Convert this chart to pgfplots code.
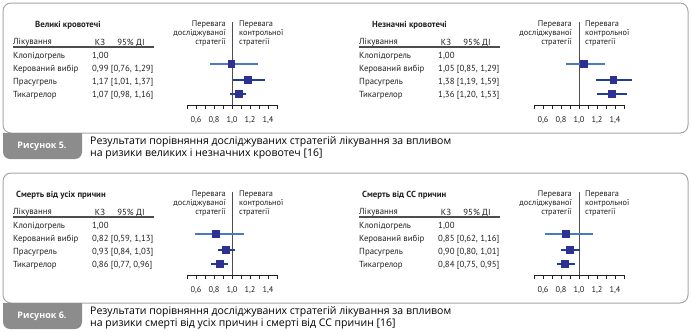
\documentclass[border=0pt]{standalone}
\usepackage{pgfplots}
\pgfplotsset{compat=1.18}
\usepackage{fontspec}
\setmainfont{PT Sans}
\newfontfamily\capfont{Open Sans}
\definecolor{framegray}{HTML}{A6A6A6}
\definecolor{labgray}{HTML}{8C8C8C}
\definecolor{sqblue}{HTML}{2E3192}
\definecolor{cilight}{HTML}{4A7BBE}
\definecolor{cidark}{HTML}{1F3F95}
\definecolor{txt}{HTML}{231F20}
\definecolor{vline}{HTML}{4D4D4D}
\pgfplotsset{forest/.style={scale only axis, width=90pt, height=83pt,
  xmin=0.5, xmax=1.5, ymin=0, ymax=83,
  axis x line=bottom, axis y line=none,
  x axis line style={-, line width=0.8pt, color=txt},
  xtick={0.5,0.6,0.7,0.8,0.9,1.0,1.1,1.2,1.3,1.4,1.5},
  xticklabels={,{0,6},,{0,8},,{1,0},,{1,2},,{1,4},},
  tick align=outside, major tick length=4pt,
  every tick/.style={line width=0.8pt, color=txt},
  xticklabel style={font=\fontsize{8.3}{9}\selectfont, text=txt, yshift=-4pt},
  clip=false, anchor=south west},
  ci1/.style={cilight, line width=1.3pt},
  ci2/.style={cidark, line width=1.3pt},
  sq/.style={only marks, mark=square*, mark size=3.4pt, color=sqblue}}
\newcommand{\pf}{\fontsize{8.8}{10}\selectfont}
\newcommand{\panel}[7]{%
 \begin{scope}[shift={(#1,#2)}, every node/.style={inner sep=0pt, text=txt}]
  \node[anchor=west, font=\bfseries\pf] at (#4,25) {#3};
  \node[anchor=west, font=\pf] at (13,42.5) {Лікування};
  \node[font=\pf] at (100,42.5) {КЗ};
  \node[font=\pf] at (131,42.5) {95\% ДІ};
  \draw[vline, line width=1.5pt] (13,47) -- (154,47);
  \foreach \n/\y in {Клопідогрель/56, Керований вибір/69, Прасугрель/82, Тикагрелор/95}
    \node[anchor=west, font=\pf] at (13,\y) {\n};
  \node[anchor=west, font=\pf] at (92,56) {1,00};
  \node[anchor=west, font=\pf] at (92,69) {#5};
  \node[anchor=west, font=\pf] at (92,82) {#6};
  \node[anchor=west, font=\pf] at (92,95) {#7};
  \node[anchor=north east, align=right, font=\fontsize{8.3}{9}\selectfont] at (226,20) {Перевага\\досліджуваної\\стратегії};
  \node[anchor=north west, align=left, font=\fontsize{8.3}{9}\selectfont] at (239,20) {Перевага\\контрольної\\стратегії};
 \end{scope}}
\begin{document}
\begin{tikzpicture}[x=1pt, y=-1pt]
\path[use as bounding box] (0,0) rectangle (691,332);
% frames
\foreach \dy/\num/\la/\lb in {0/5/{Результати порівняння досліджуваних стратегій лікування за впливом}/{на ризики великих і незначних кровотеч [16]},
  170/6/{Результати порівняння досліджуваних стратегій лікування за впливом}/{на ризики смерті від усіх причин і смерті від СС причин [16]}}{
 \begin{scope}[yshift=-\dy pt]
  \draw[framegray, line width=1pt, rounded corners=8pt] (3,3) rectangle (688,133);
  \fill[labgray] (82,133) -- (3,133) {[rounded corners=7pt] -- (3,159) -- (82,159)} -- cycle;
  \node[text=white, font=\capfont\bfseries\fontsize{9}{10}\selectfont] at (42,146) {Рисунок \num.};
  \node[anchor=west, inner sep=0pt, font=\capfont\fontsize{10.5}{12}\selectfont] at (90,141.5) {\la};
  \node[anchor=west, inner sep=0pt, font=\capfont\fontsize{10.5}{12}\selectfont] at (90,153.5) {\lb};
 \end{scope}}
\panel{0}{0}{Великі кровотечі}{35}{0,99 [0,76, 1,29]}{1,17 [1,01, 1,37]}{1,07 [0,98, 1,16]}
\panel{346}{0}{Незначні кровотечі}{26}{1,05 [0,85, 1,29]}{1,38 [1,19, 1,59]}{1,36 [1,20, 1,53]}
\panel{0}{170}{Смерть від усіх причин}{16}{0,82 [0,59, 1,13]}{0,93 [0,84, 1,03]}{0,86 [0,77, 0,96]}
\panel{346}{170}{Смерть від СС причин}{16}{0,85 [0,62, 1,16]}{0,90 [0,80, 1,01]}{0,84 [0,75, 0,95]}
% forest plots
\begin{axis}[forest, at={(187pt,-105pt)}]
 \addplot[vline, line width=1pt] coordinates {(1,0) (1,83)};
 \addplot[ci1] coordinates {(0.76,41) (1.29,41)};
 \addplot[ci2] coordinates {(1.01,25) (1.37,25)};
 \addplot[ci2] coordinates {(0.98,11) (1.16,11)};
 \addplot[sq] coordinates {(0.99,41) (1.17,25) (1.07,11)};
\end{axis}
\begin{axis}[forest, at={(534pt,-105pt)}]
 \addplot[vline, line width=1pt] coordinates {(1,0) (1,83)};
 \addplot[ci1] coordinates {(0.85,41) (1.29,41)};
 \addplot[ci2] coordinates {(1.19,25) (1.59,25)};
 \addplot[ci2] coordinates {(1.20,11) (1.53,11)};
 \addplot[sq] coordinates {(1.05,41) (1.38,25) (1.36,11)};
\end{axis}
\begin{axis}[forest, at={(187pt,-275pt)}]
 \addplot[vline, line width=1pt] coordinates {(1,0) (1,83)};
 \addplot[ci1] coordinates {(0.59,41) (1.13,41)};
 \addplot[ci2] coordinates {(0.84,25) (1.03,25)};
 \addplot[ci2] coordinates {(0.77,11) (0.96,11)};
 \addplot[sq] coordinates {(0.82,41) (0.93,25) (0.86,11)};
\end{axis}
\begin{axis}[forest, at={(534pt,-275pt)}]
 \addplot[vline, line width=1pt] coordinates {(1,0) (1,83)};
 \addplot[ci1] coordinates {(0.62,41) (1.16,41)};
 \addplot[ci2] coordinates {(0.80,25) (1.01,25)};
 \addplot[ci2] coordinates {(0.75,11) (0.95,11)};
 \addplot[sq] coordinates {(0.85,41) (0.90,25) (0.84,11)};
\end{axis}
\end{tikzpicture}
\end{document}
